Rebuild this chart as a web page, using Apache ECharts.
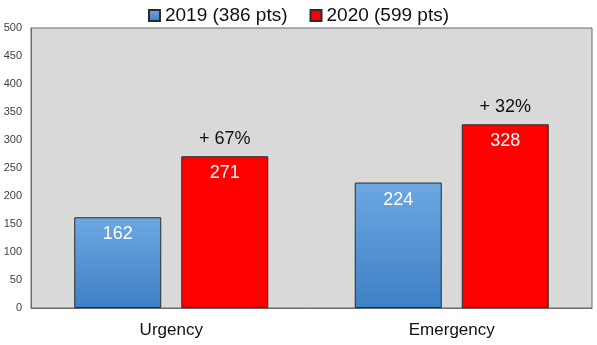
<!DOCTYPE html>
<html>
<head>
<meta charset="utf-8">
<script src="https://cdn.jsdelivr.net/npm/echarts@6/dist/echarts.min.js"></script>
<style>
  html, body { margin: 0; padding: 0; background: #fff; }
  #chart { width: 597px; height: 345px; }
</style>
</head>
<body>
<div id="chart"></div>
<script>
const categories = ['Urgency', 'Emergency'];
const values2019 = [162, 224];
const values2020 = [271, 328];
const changeLabels = ['+ 67%', '+ 32%'];
const yTicks = [0, 500, 50]; // min, max, interval

const font = '"Liberation Sans", Arial, sans-serif';
const chart = echarts.init(document.getElementById('chart'));

const option = {
  animation: false,
  legend: {
    top: 1,
    left: 'center',
    icon: 'rect',
    itemWidth: 11,
    itemHeight: 11,
    itemGap: 22,
    textStyle: { fontFamily: font, fontSize: 19, color: '#111' },
    data: ['2019 (386 pts)', '2020 (599 pts)']
  },
  grid: {
    left: 31, right: 5, top: 28, bottom: 37,
    show: true,
    backgroundColor: '#d9d9d9',
    borderColor: '#6b6b6b',
    borderWidth: 1
  },
  xAxis: {
    type: 'category',
    data: categories,
    axisTick: { show: false },
    axisLine: { lineStyle: { color: '#6b6b6b' } },
    axisLabel: { fontFamily: font, fontSize: 17, color: '#111', margin: 14 }
  },
  yAxis: {
    type: 'value',
    min: yTicks[0], max: yTicks[1], interval: yTicks[2],
    splitLine: { show: false },
    axisLine: { show: true, lineStyle: { color: '#6b6b6b' } },
    axisTick: { show: false },
    axisLabel: { fontFamily: font, fontSize: 11, color: '#404040', margin: 9 }
  },
  series: [
    {
      name: '2019 (386 pts)',
      type: 'bar',
      data: values2019,
      barWidth: 87,
      barGap: '23%',
      itemStyle: {
        color: new echarts.graphic.LinearGradient(0, 0, 0, 1, [
          { offset: 0, color: '#6ca8e2' },
          { offset: 1, color: '#3e80c5' }
        ]),
        borderColor: '#2b2b2b',
        borderWidth: 1
      },
      label: {
        show: true, position: 'insideTop', distance: 8,
        fontFamily: font, fontSize: 18, color: '#fff'
      }
    },
    {
      name: '2020 (599 pts)',
      type: 'bar',
      data: values2020,
      barWidth: 87,
      itemStyle: { color: '#ff0000', borderColor: '#2b2b2b', borderWidth: 1 },
      label: {
        show: true, position: 'insideTop', distance: 8,
        fontFamily: font, fontSize: 18, color: '#fff'
      },
      markPoint: {
        symbol: 'rect',
        symbolSize: 1,
        itemStyle: { color: 'rgba(0,0,0,0)' },
        label: {
          show: true, position: 'top', distance: 8,
          fontFamily: font, fontSize: 18, color: '#111',
          formatter: p => p.name
        },
        data: categories.map((c, i) => ({ name: changeLabels[i], coord: [c, values2020[i]] }))
      }
    }
  ]
};
chart.setOption(option);
</script>
</body>
</html>
